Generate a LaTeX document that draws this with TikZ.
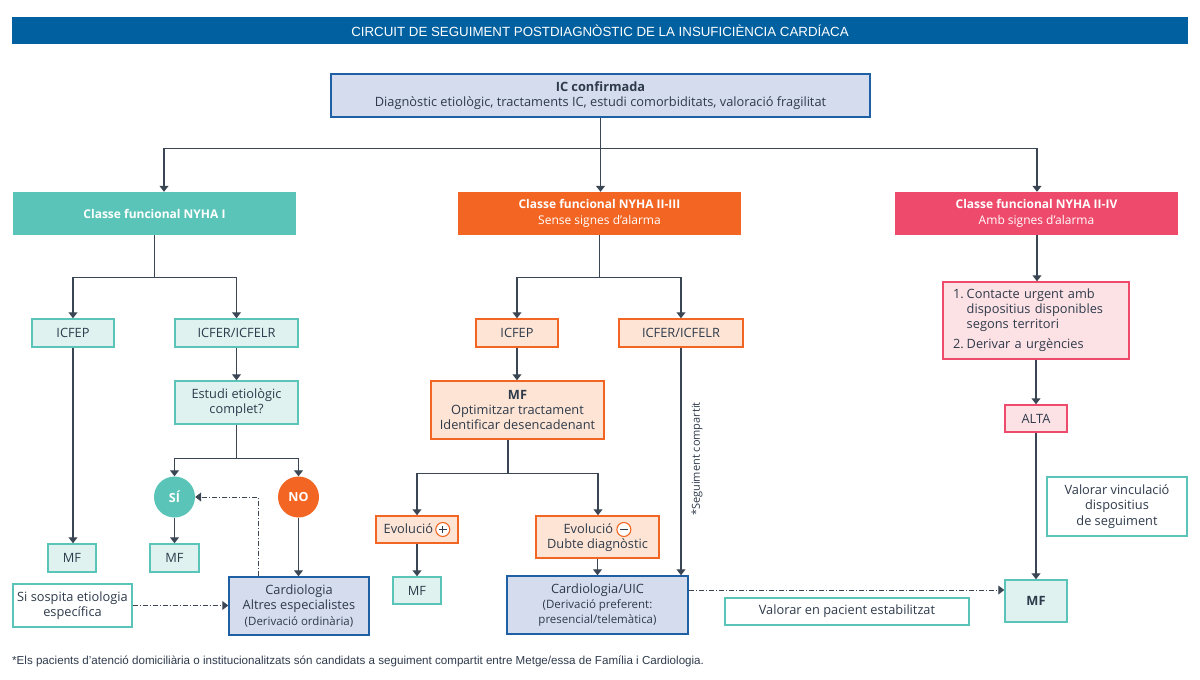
\documentclass[tikz,border=0pt]{standalone}
\usepackage{fontspec}
\setmainfont{Open Sans}
\newfontfamily\titlefont{Liberation Sans}
\usetikzlibrary{arrows.meta,calc}
\definecolor{titleblue}{HTML}{0060A0}
\definecolor{lav}{HTML}{D4DCEE}
\definecolor{blueb}{HTML}{1F5FA3}
\definecolor{teal}{HTML}{5BC4B8}
\definecolor{teallight}{HTML}{DFF2EF}
\definecolor{org}{HTML}{F26522}
\definecolor{orglight}{HTML}{FDE4D4}
\definecolor{pinkc}{HTML}{EE4A6B}
\definecolor{pinklight}{HTML}{FDE2E5}
\definecolor{ln}{HTML}{3B4654}
\definecolor{txt}{HTML}{2E3A4B}
\newcommand\cplus{\tikz[baseline=-4.3pt]{\draw[org,line width=1.1pt,fill=white] (0,0) circle (7pt); \draw[txt,line width=1.2pt] (-3.8pt,0)--(3.8pt,0) (0,-3.8pt)--(0,3.8pt);}}
\newcommand\cminus{\tikz[baseline=-4.3pt]{\draw[org,line width=1.1pt,fill=white] (0,0) circle (7pt); \draw[txt,line width=1.2pt] (-3.8pt,0)--(3.8pt,0);}}
\begin{document}
\begin{tikzpicture}[x=1pt,y=-1pt,
  wh/.style 2 args={minimum width=#1pt,minimum height=#2pt},
  box/.style={draw,line width=1.5pt,inner sep=2pt,align=center,text=txt,font=\fontsize{12.8}{15.2}\selectfont},
  tealbox/.style={box,draw=teal,fill=teallight},
  orgbox/.style={box,draw=org,fill=orglight},
  pinkbox/.style={box,draw=pinkc,fill=pinklight},
  bluebox/.style={box,draw=blueb,fill=lav},
  whitebox/.style={box,draw=teal,fill=white,line width=1.2pt},
  head/.style={minimum width=283pt,minimum height=43pt,align=center,text=white,inner sep=2pt,font=\fontsize{12}{16}\selectfont},
  circ/.style={circle,minimum size=41pt,inner sep=0pt,text=white,font=\bfseries\fontsize{12.5}{14}\selectfont},
  line/.style={draw=ln,line width=1.2pt},
  arr/.style={line,-{Triangle[width=9pt,length=6pt]}},
  dd/.style={arr,line width=1pt,dash pattern=on 5pt off 2pt on 1pt off 2pt}]
\useasboundingbox (0,0) rectangle (1200,680);

% title
\node[fill=titleblue,wh={1176}{27},text=white,inner sep=0pt,font=\titlefont\fontsize{13.3}{15}\selectfont] (title) at (600,30.5) {CIRCUIT DE SEGUIMENT POSTDIAGNÒSTIC DE LA INSUFICIÈNCIA CARDÍACA};

% top
\node[bluebox,wh={539}{43}] (top) at (600.5,95.5) {\textbf{IC confirmada}\\Diagnòstic etiològic, tractaments IC, estudi comorbiditats, valoració fragilitat};

% headers
\node[head,fill=teal] (ny1) at (154.5,213.5) {\textbf{Classe funcional NYHA I}};
\node[head,fill=org] (ny2) at (599.5,213.5) {\textbf{Classe funcional NYHA II-III}\\Sense signes d’alarma};
\node[head,fill=pinkc] (ny3) at (1036.5,213.5) {\textbf{Classe funcional NYHA II-IV}\\Amb signes d’alarma};

% left column
\node[tealbox,wh={82}{28}] (licfep) at (73,333) {ICFEP};
\node[tealbox,wh={123}{28}] (licfer) at (236.5,333) {ICFER/ICFELR};
\node[tealbox,wh={123}{43}] (estudi) at (236.5,402.5) {Estudi etiològic\\complet?};
\node[circ,fill=teal] (si) at (174.5,497) {SÍ};
\node[circ,fill=org] (no) at (298.5,497) {NO};
\node[tealbox,wh={48}{28}] (lmf1) at (72,558) {MF};
\node[tealbox,wh={49}{28}] (lmf2) at (174.5,558) {MF};
\node[bluebox,wh={140}{58}] (card1) at (299,606) {Cardiologia\\Altres especialistes\\{\fontsize{11.5}{13}\selectfont(Derivació ordinària)}};
\node[whitebox,wh={119}{43}] (sosp) at (72.5,605.5) {Si sospita etiologia\\específica};

% middle column
\node[orgbox,wh={82}{28}] (micfep) at (517,333) {ICFEP};
\node[orgbox,wh={124}{28}] (micfer) at (681,333) {ICFER/ICFELR};
\node[orgbox,wh={173}{58}] (mmf) at (517.5,410) {\textbf{MF}\\Optimitzar tractament\\Identificar desencadenant};
\node[orgbox,wh={82}{27}] (evp) at (417,529.5) {Evolució\,\cplus};
\node[orgbox,wh={123}{42}] (evm) at (597.5,537) {Evolució \cminus\\Dubte diagnòstic};
\node[tealbox,wh={48}{27}] (mmf2) at (417,590.5) {MF};
\node[bluebox,wh={181}{58}] (card2) at (597.5,605) {Cardiologia/UIC\\{\fontsize{11.5}{14}\selectfont(Derivació preferent:}\\{\fontsize{11.5}{14}\selectfont presencial/telemàtica)}};
\node[rotate=90,text=txt,inner sep=0pt,font=\fontsize{11}{13}\selectfont] (seg) at (697,459) {*Seguiment compartit};
\node[whitebox,wh={244}{27}] (valest) at (847,611.5) {Valorar en pacient estabilitzat};

% right column
\node[pinkbox,wh={186}{77},text width=166pt,inner xsep=10pt,align=left] (rlist) at (1036,320.5) {\begin{tabular}{@{}l@{\hspace{3pt}}l@{}}1.&Contacte urgent amb\\&dispositius disponibles\\&segons territori\\[5pt]2.&Derivar a urgències\end{tabular}};
\node[pinkbox,wh={62}{27}] (alta) at (1036,418.5) {ALTA};
\node[tealbox,wh={62}{42}] (rmf) at (1036,601) {\textbf{MF}};
\node[whitebox,wh={140}{59}] (valvinc) at (1117,506.5) {Valorar vinculació\\dispositius\\de seguiment};

% footnote
\node[anchor=west,inner sep=0pt,text=txt,font=\titlefont\fontsize{11.6}{13}\selectfont] (foot) at (12,661) {*Els pacients d’atenció domiciliària o institucionalitzats són candidats a seguiment compartit entre Metge/essa de Família i Cardiologia.};

% connectors top
\draw[line] (top.south) -- ++(0,31) coordinate (j0);
\draw[arr] (j0) -| ([xshift=9.5pt]ny1.north);
\draw[arr] (j0) -- (j0 |- ny2.north);
\draw[arr] (j0) -| ([xshift=0.5pt]ny3.north);

% left
\draw[line] (ny1.south) -- ++(0,42) coordinate (j1);
\draw[arr] (j1) -| (licfep.north);
\draw[arr] (j1) -| (licfer.north);
\draw[arr] (licfer.south) -- (estudi.north);
\draw[line] (estudi.south) -- ++(0,34) coordinate (j2);
\draw[arr] (j2) -| (si.north);
\draw[arr] (j2) -| (no.north);
\draw[arr] (si.south) -- (lmf2.north);
\draw[arr] (licfep.south) -- (licfep.south |- lmf1.north);
\draw[arr] (no.south) -- (no.south |- card1.north);
\draw[dd] ([xshift=-41pt]card1.north) |- (si.east);
\draw[dd] (sosp.east) -- (sosp.east -| card1.west);

% middle
\draw[line] (ny2.south) -- ++(0,42) coordinate (j3);
\draw[arr] (j3) -| (micfep.north);
\draw[arr] (j3) -| (micfer.north);
\draw[arr] (micfep.south) -- (micfep.south |- mmf.north);
\draw[line] ([xshift=-9.5pt]mmf.south) -- ++(0,34) coordinate (j4);
\draw[arr] (j4) -| (evp.north);
\draw[arr] (j4) -| ([xshift=0.5pt]evm.north);
\draw[arr] (evp.south) -- (mmf2.north);
\draw[arr] (evm.south) -- (card2.north);
\draw[arr] (micfer.south) -- (micfer.south |- card2.north);
\coordinate (c2e) at ([yshift=15pt]card2.east);
\draw[dd] (c2e) -- (c2e -| rmf.west);

% right
\draw[arr] ([xshift=0.5pt]ny3.south) -- ([xshift=1pt]rlist.north);
\draw[arr] (rlist.south) -- (alta.north);
\draw[arr] (alta.south) -- (rmf.north);
\end{tikzpicture}
\end{document}
